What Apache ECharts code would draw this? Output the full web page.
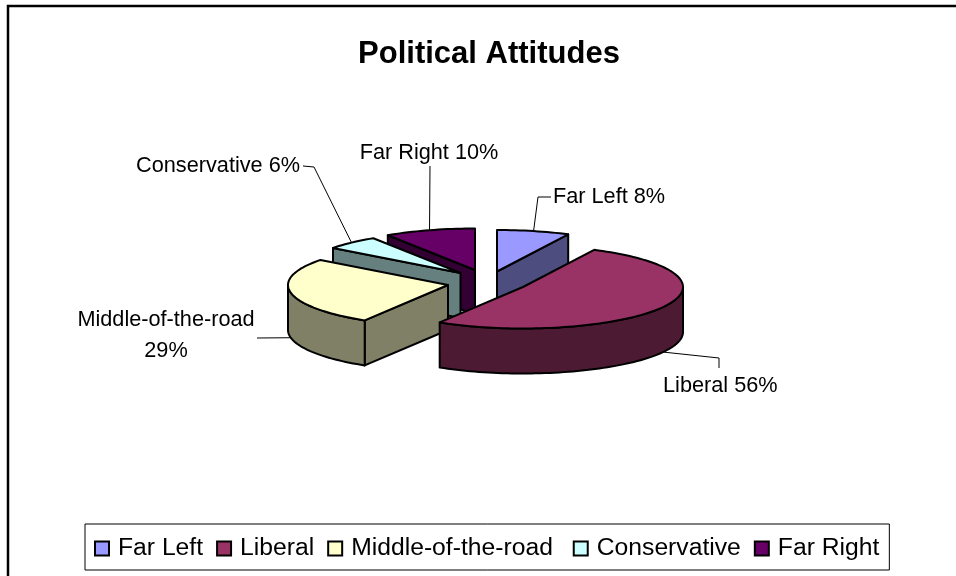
<!DOCTYPE html>
<html><head><meta charset="utf-8">
<style>html,body{margin:0;padding:0;background:#fff}#c{width:956px;height:576px}</style>
<script src="https://cdn.jsdelivr.net/npm/echarts@6/dist/echarts.min.js"></script>
</head><body><div id="c"></div>
<script>
const categories = ['Far Left','Liberal','Middle-of-the-road','Conservative','Far Right'];
const values = [8,56,29,6,10];
const topColors = ['#9999FF','#993366','#FFFFCC','#CCFFFF','#660066'];
const wallColors = ['#4D4D80','#4D1A33','#808066','#668080','#330033'];
// layout of the exploded pie
const apexX = [497,523,448,460.5,475];
const apexY = [271.5,287,285,273,270];
const drawOrder = [4,0,3,2,1];
const RX = 160, RY = 41.5, DEPTH = 45;
// label layout: text anchor and leader bends
const labelX = [553,663,166,300,429];
const labelY = [197,386,336,166,153];
const labelAlign = ['left','left','center','right','center'];
const leaderBends = [[[538,197],[551,197]],[[719,358],[719,368]],[[257,338]],[[314,167],[303,166]],[[430,166]]];

const total = values.reduce((a,b)=>a+b,0);
const cum = [0]; values.forEach((v,i)=>cum.push(cum[i]+v));
const ang = f => f/total*Math.PI*2;
const pt = (i,t,d) => [apexX[i]+RX*Math.sin(t), apexY[i]-RY*Math.cos(t)+(d||0)];
function arc(i,t0,t1,d){const n=Math.max(2,Math.ceil(Math.abs(t1-t0)/0.03));const r=[];
  for(let k=0;k<=n;k++) r.push(pt(i,t0+(t1-t0)*k/n,d));return r;}

function renderSlice(i){
  const s=ang(cum[i]), e=ang(cum[i+1]), m=(s+e)/2;
  const wall=wallColors[i], stroke={stroke:'#000',lineWidth:2,lineJoin:'round'};
  const kids=[];
  const apex=[apexX[i],apexY[i]];
  const radial=t=>{const p=pt(i,t);return {type:'polygon',shape:{points:[apex,p,[p[0],p[1]+DEPTH],[apex[0],apex[1]+DEPTH]]},style:Object.assign({fill:wall},stroke)};};
  if(Math.sin(s)<-1e-6) kids.push(radial(s));
  if(Math.sin(e)>1e-6) kids.push(radial(e));
  const a0=Math.max(s,Math.PI/2), a1=Math.min(e,Math.PI*1.5);
  if(a1>a0){
    kids.push({type:'polygon',shape:{points:arc(i,a0,a1,0).concat(arc(i,a1,a0,DEPTH))},style:Object.assign({fill:wall},stroke)});
  }
  kids.push({type:'polygon',shape:{points:[apex].concat(arc(i,s,e,0))},style:Object.assign({fill:topColors[i]},stroke)});
  // leader + label
  const front=m>Math.PI/2 && m<Math.PI*1.5;
  const line=[pt(i,m,front?DEPTH:0)].concat(leaderBends[i]);
  kids.push({type:'polyline',shape:{points:line},style:{stroke:'#000',lineWidth:1,fill:null}});
  const text=i===2?`${categories[i]}\n${values[i]}%`:`${categories[i]} ${values[i]}%`;
  kids.push({type:'text',x:labelX[i],y:labelY[i],style:{text,fill:'#000',font:'21.7px "Liberation Sans"',align:labelAlign[i],verticalAlign:'middle',lineHeight:31}});
  return {type:'group',children:kids};
}

const series=categories.map((name,i)=>({
  type:'custom',name,coordinateSystem:'none',silent:true,
  z:2+drawOrder.indexOf(i),
  itemStyle:{color:topColors[i],borderColor:'#000',borderWidth:1},
  data:[values[i]],
  renderItem:()=>renderSlice(i)
}));

const legendText={fontFamily:'Liberation Sans',fontSize:24.7,color:'#000',padding:[0,0,0,4]};
const chart=echarts.init(document.getElementById('c'),null,{renderer:'canvas'});
chart.setOption({
  animation:false,
  backgroundColor:'#fff',
  title:{text:'Political Attitudes',left:484,top:34,textAlign:'center',textStyle:{fontFamily:'Liberation Sans',fontWeight:'bold',fontSize:31,color:'#000'}},
  legend:{data:categories,
    formatter:n=>n==='Middle-of-the-road'?n+'\u00a0':n,
    left:85,top:524,padding:[12,10,9,9],itemGap:13,itemWidth:14,itemHeight:14,icon:'rect',
    borderColor:'#000',borderWidth:1,backgroundColor:'#fff',selectedMode:false,
    textStyle:legendText},
  graphic:[{type:'rect',z:0,shape:{x:8,y:6,width:1000,height:620},style:{fill:'#fff',stroke:'#000',lineWidth:2.5}}],
  series
});
</script></body></html>
